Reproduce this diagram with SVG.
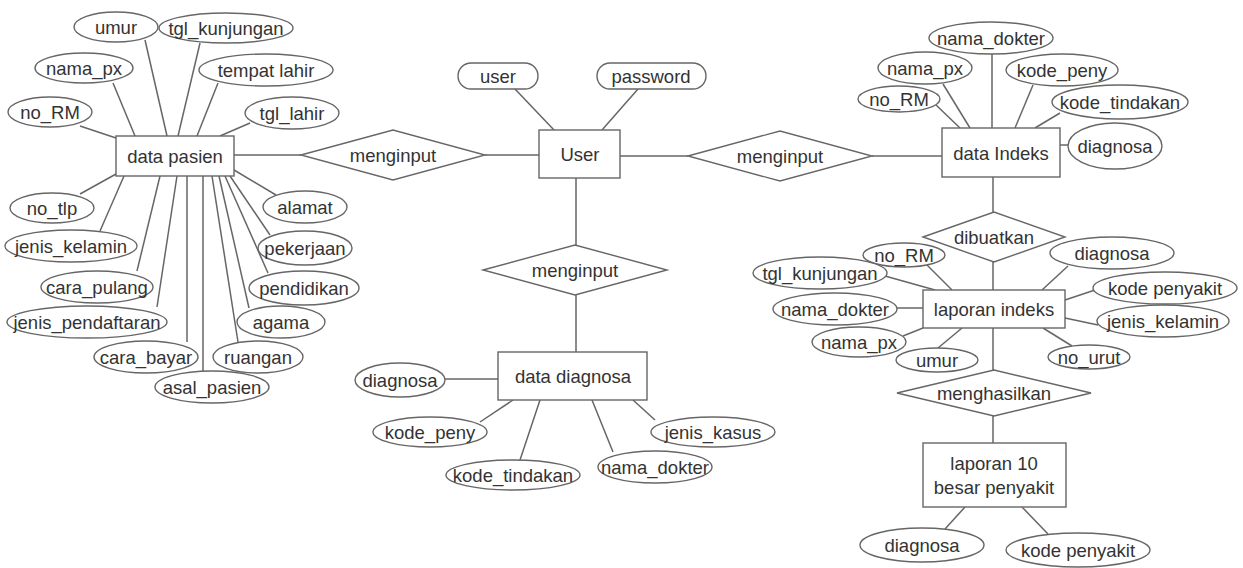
<svg xmlns="http://www.w3.org/2000/svg" width="1243" height="568" viewBox="0 0 1243 568">
<style>
.bg{fill:#fff}
.c line{stroke:#666;stroke-width:1.5}
ellipse,rect.e,polygon,rect.s{fill:#fff;stroke:#666;stroke-width:1.4}
text{font-family:"Liberation Sans",Arial,sans-serif;font-size:18.5px;fill:#333;text-anchor:middle;dominant-baseline:central}
</style>
<rect class="bg" x="0" y="0" width="1243" height="568"/>
<g id="connectors" class="c">
<line x1="80" y1="126" x2="116" y2="138"/>
<line x1="113" y1="83" x2="135" y2="136"/>
<line x1="145" y1="40" x2="167" y2="136"/>
<line x1="200" y1="43" x2="178" y2="136"/>
<line x1="218" y1="83" x2="197" y2="136"/>
<line x1="250" y1="123" x2="220" y2="136"/>
<line x1="80" y1="194" x2="116" y2="174"/>
<line x1="100" y1="231" x2="124" y2="176"/>
<line x1="137" y1="271" x2="160" y2="176"/>
<line x1="157" y1="307" x2="177" y2="176"/>
<line x1="187" y1="342" x2="187" y2="176"/>
<line x1="203" y1="371" x2="203" y2="176"/>
<line x1="238" y1="342" x2="212" y2="176"/>
<line x1="249" y1="308" x2="219" y2="176"/>
<line x1="268" y1="273" x2="225" y2="176"/>
<line x1="270" y1="235" x2="230" y2="176"/>
<line x1="276" y1="195" x2="234" y2="170"/>
<line x1="234" y1="155" x2="301" y2="155"/>
<line x1="485" y1="155" x2="539" y2="155"/>
<line x1="515" y1="89" x2="554" y2="130"/>
<line x1="638" y1="89" x2="602" y2="130"/>
<line x1="620" y1="156" x2="688" y2="156"/>
<line x1="872" y1="156" x2="942" y2="156"/>
<line x1="576" y1="178" x2="576" y2="245"/>
<line x1="576" y1="295" x2="576" y2="352"/>
<line x1="445" y1="379" x2="498" y2="379"/>
<line x1="480" y1="422" x2="513" y2="400"/>
<line x1="520" y1="460" x2="540" y2="400"/>
<line x1="613" y1="452" x2="592" y2="400"/>
<line x1="655" y1="420" x2="633" y2="400"/>
<line x1="992" y1="54" x2="992" y2="128"/>
<line x1="943" y1="84" x2="970" y2="128"/>
<line x1="935" y1="104" x2="960" y2="128"/>
<line x1="1033" y1="85" x2="1015" y2="128"/>
<line x1="1060" y1="113" x2="1035" y2="128"/>
<line x1="1060" y1="145" x2="1070" y2="145"/>
<line x1="993" y1="177" x2="993" y2="212"/>
<line x1="993" y1="262" x2="993" y2="290"/>
<line x1="927" y1="265" x2="952" y2="290"/>
<line x1="885" y1="276" x2="935" y2="290"/>
<line x1="897" y1="308" x2="923" y2="308"/>
<line x1="903" y1="336" x2="923" y2="328"/>
<line x1="938" y1="348" x2="962" y2="328"/>
<line x1="1068" y1="266" x2="1042" y2="290"/>
<line x1="1095" y1="290" x2="1065" y2="300"/>
<line x1="1098" y1="325" x2="1065" y2="318"/>
<line x1="1072" y1="346" x2="1043" y2="328"/>
<line x1="993" y1="328" x2="993" y2="370"/>
<line x1="993" y1="416" x2="993" y2="443"/>
<line x1="945" y1="529" x2="965" y2="507"/>
<line x1="1048" y1="534" x2="1022" y2="507"/>
</g>
<g id="data_pasien"><rect class="e" x="116" y="136" width="118" height="40"/><text x="175" y="156">data pasien</text></g>
<g id="dp_umur"><ellipse cx="116" cy="27" rx="42" ry="15"/><text x="116" y="27">umur</text></g>
<g id="dp_tgl_kunjungan"><ellipse cx="226" cy="28" rx="67" ry="15"/><text x="226" y="28">tgl_kunjungan</text></g>
<g id="dp_nama_px"><ellipse cx="84" cy="68" rx="49" ry="15"/><text x="84" y="68">nama_px</text></g>
<g id="dp_tempat_lahir"><ellipse cx="266" cy="70" rx="67" ry="16"/><text x="266" y="70">tempat lahir</text></g>
<g id="dp_no_rm"><ellipse cx="50" cy="112" rx="42" ry="15"/><text x="50" y="112">no_RM</text></g>
<g id="dp_tgl_lahir"><ellipse cx="292" cy="113" rx="47" ry="16"/><text x="292" y="113">tgl_lahir</text></g>
<g id="dp_no_tlp"><ellipse cx="52" cy="208" rx="42" ry="15"/><text x="52" y="208">no_tlp</text></g>
<g id="dp_jenis_kelamin"><ellipse cx="71" cy="246" rx="66" ry="16"/><text x="71" y="246">jenis_kelamin</text></g>
<g id="dp_cara_pulang"><ellipse cx="97" cy="287" rx="56" ry="16"/><text x="97" y="287">cara_pulang</text></g>
<g id="dp_jenis_pendaftaran"><ellipse cx="87" cy="322" rx="80" ry="16"/><text x="87" y="322">jenis_pendaftaran</text></g>
<g id="dp_cara_bayar"><ellipse cx="146" cy="357" rx="52" ry="16"/><text x="146" y="357">cara_bayar</text></g>
<g id="dp_asal_pasien"><ellipse cx="212" cy="387" rx="57" ry="16"/><text x="212" y="387">asal_pasien</text></g>
<g id="dp_ruangan"><ellipse cx="258" cy="357" rx="45" ry="16"/><text x="258" y="357">ruangan</text></g>
<g id="dp_agama"><ellipse cx="281" cy="322" rx="44" ry="16"/><text x="281" y="322">agama</text></g>
<g id="dp_pendidikan"><ellipse cx="304" cy="288" rx="55" ry="17"/><text x="304" y="288">pendidikan</text></g>
<g id="dp_pekerjaan"><ellipse cx="305" cy="248" rx="47" ry="17"/><text x="305" y="248">pekerjaan</text></g>
<g id="dp_alamat"><ellipse cx="305" cy="207" rx="42" ry="16"/><text x="305" y="207">alamat</text></g>
<g id="rel_menginput_1"><polygon points="301,155 393,130 485,155 393,180"/><text x="393" y="155">menginput</text></g>
<g id="user_entity"><rect class="e" x="539" y="130" width="81" height="48"/><text x="580" y="154">User</text></g>
<g id="user_attr_user"><rect class="s" x="458" y="63" width="80" height="26" rx="13"/><text x="498" y="76">user</text></g>
<g id="user_attr_password"><rect class="s" x="597" y="63" width="109" height="26" rx="13"/><text x="651" y="76">password</text></g>
<g id="rel_menginput_2"><polygon points="688,156 780,131 872,156 780,181"/><text x="780" y="156">menginput</text></g>
<g id="rel_menginput_3"><polygon points="483,270 575,245 667,270 575,295"/><text x="575" y="270">menginput</text></g>
<g id="data_diagnosa"><rect class="e" x="498" y="352" width="149" height="48"/><text x="573" y="376">data diagnosa</text></g>
<g id="dd_diagnosa"><ellipse cx="400" cy="380" rx="45" ry="17"/><text x="400" y="380">diagnosa</text></g>
<g id="dd_kode_peny"><ellipse cx="430" cy="432" rx="57" ry="15"/><text x="430" y="432">kode_peny</text></g>
<g id="dd_kode_tindakan"><ellipse cx="513" cy="475" rx="67" ry="15"/><text x="513" y="475">kode_tindakan</text></g>
<g id="dd_nama_dokter"><ellipse cx="655" cy="467" rx="57" ry="16"/><text x="655" y="467">nama_dokter</text></g>
<g id="dd_jenis_kasus"><ellipse cx="713" cy="432" rx="62" ry="15"/><text x="713" y="432">jenis_kasus</text></g>
<g id="data_indeks"><rect class="e" x="942" y="128" width="118" height="49"/><text x="1001" y="153">data Indeks</text></g>
<g id="di_nama_dokter"><ellipse cx="991" cy="38" rx="62" ry="16"/><text x="991" y="38">nama_dokter</text></g>
<g id="di_nama_px"><ellipse cx="925" cy="68" rx="47" ry="16"/><text x="925" y="68">nama_px</text></g>
<g id="di_no_rm"><ellipse cx="899" cy="99" rx="41" ry="13"/><text x="899" y="99">no_RM</text></g>
<g id="di_kode_peny"><ellipse cx="1062" cy="70" rx="56" ry="16"/><text x="1062" y="70">kode_peny</text></g>
<g id="di_kode_tindakan"><ellipse cx="1120" cy="102" rx="68" ry="17"/><text x="1120" y="102">kode_tindakan</text></g>
<g id="di_diagnosa"><ellipse cx="1115" cy="146" rx="47" ry="23"/><text x="1115" y="146">diagnosa</text></g>
<g id="rel_dibuatkan"><polygon points="923,237 994,212 1065,237 994,262"/><text x="994" y="237">dibuatkan</text></g>
<g id="laporan_indeks"><rect class="e" x="923" y="290" width="142" height="38"/><text x="994" y="309">laporan indeks</text></g>
<g id="li_no_rm"><ellipse cx="904" cy="255" rx="41" ry="12"/><text x="904" y="255">no_RM</text></g>
<g id="li_tgl_kunjungan"><ellipse cx="820" cy="273" rx="67" ry="16"/><text x="820" y="273">tgl_kunjungan</text></g>
<g id="li_nama_dokter"><ellipse cx="835" cy="309" rx="62" ry="16"/><text x="835" y="309">nama_dokter</text></g>
<g id="li_nama_px"><ellipse cx="859" cy="342" rx="47" ry="15"/><text x="859" y="342">nama_px</text></g>
<g id="li_umur"><ellipse cx="937" cy="360" rx="41" ry="12"/><text x="937" y="360">umur</text></g>
<g id="li_diagnosa"><ellipse cx="1112" cy="253" rx="62" ry="16"/><text x="1112" y="253">diagnosa</text></g>
<g id="li_kode_penyakit"><ellipse cx="1165" cy="288" rx="72" ry="16"/><text x="1165" y="288">kode penyakit</text></g>
<g id="li_jenis_kelamin"><ellipse cx="1163" cy="321" rx="66" ry="16"/><text x="1163" y="321">jenis_kelamin</text></g>
<g id="li_no_urut"><ellipse cx="1089" cy="357" rx="41" ry="12"/><text x="1089" y="357">no_urut</text></g>
<g id="rel_menghasilkan"><polygon points="897,393 994,370 1091,393 994,416"/><text x="994" y="393">menghasilkan</text></g>
<g id="laporan_10"><rect class="e" x="923" y="443" width="143" height="64"/><text x="994" y="463">laporan 10</text><text x="994" y="487">besar penyakit</text></g>
<g id="l10_diagnosa"><ellipse cx="922" cy="545" rx="62" ry="17"/><text x="922" y="545">diagnosa</text></g>
<g id="l10_kode_penyakit"><ellipse cx="1078" cy="550" rx="72" ry="17"/><text x="1078" y="550">kode penyakit</text></g>
</svg>
